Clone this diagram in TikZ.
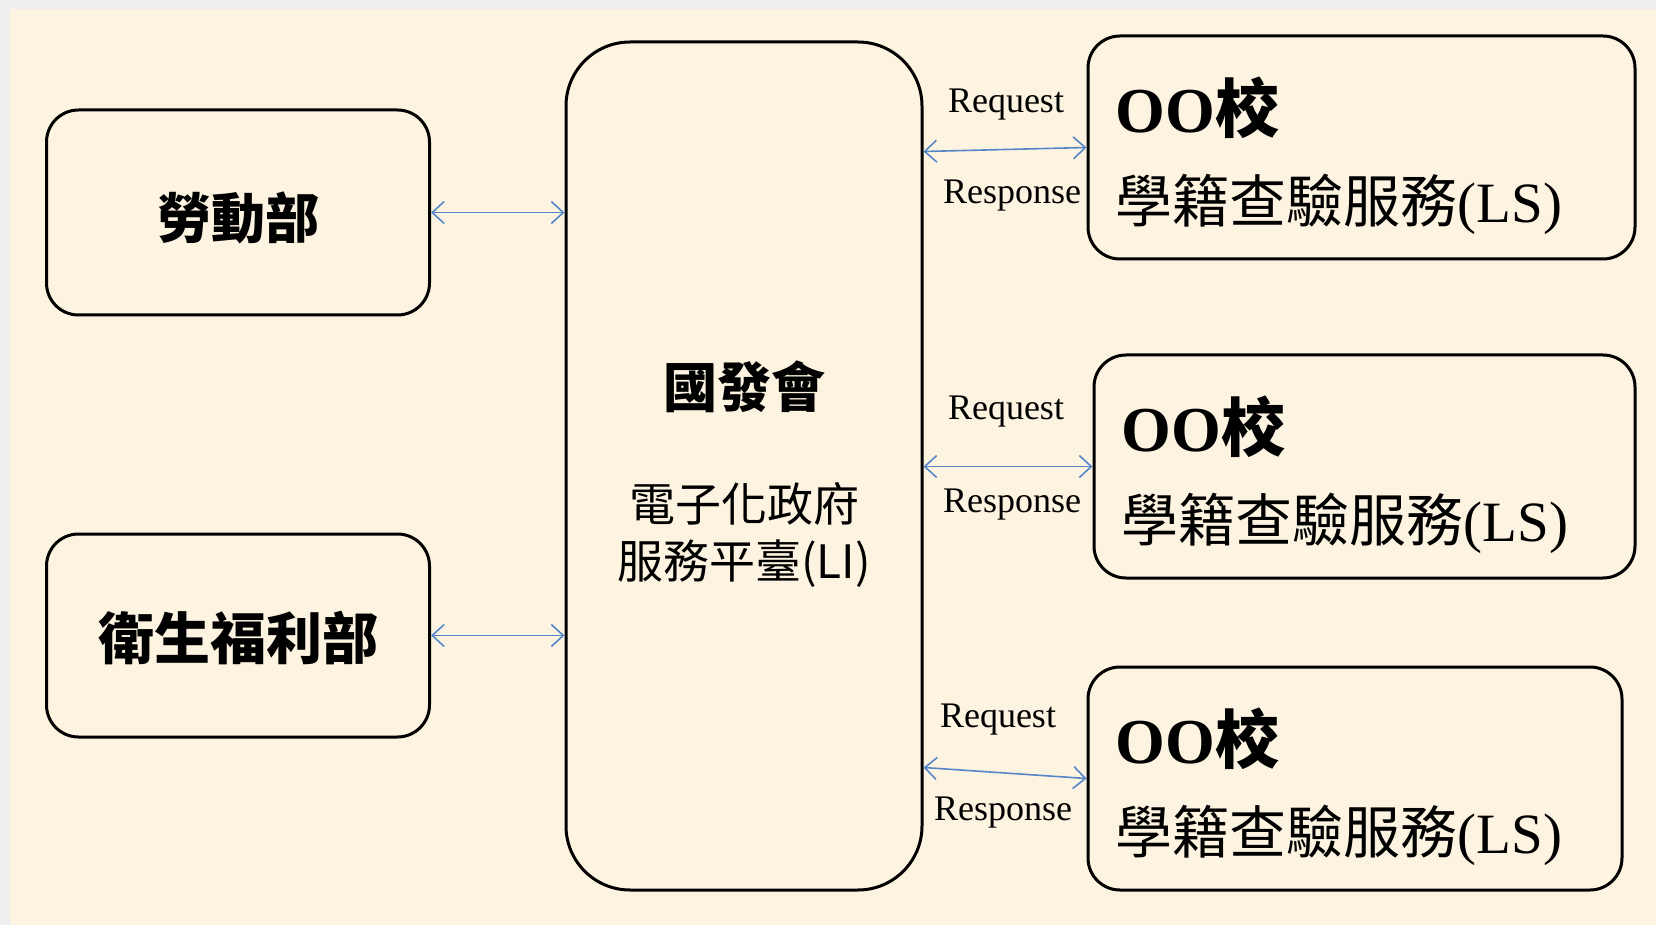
\documentclass[tikz,border=0pt]{standalone}
\usepackage{fontspec}
\setmainfont{Liberation Serif}
\newfontfamily\cjk{Noto Sans CJK TC}
\usepackage{tikz}
\usetikzlibrary{arrows.meta,positioning,calc}
\definecolor{cream}{RGB}{253,243,225}
\definecolor{edgegray}{RGB}{238,238,238}
\definecolor{linkblue}{RGB}{86,134,200}

\begin{document}
\begin{tikzpicture}[x=0.5pt,y=-0.5pt,
    box/.style={draw=black, line width=1.5pt, rounded corners=16pt, fill=cream, inner sep=0pt},
    link/.style={linkblue, line width=0.8pt, {Straight Barb[length=6pt,width=11pt]}-{Straight Barb[length=6pt,width=11pt]}},
    msg/.style={font=\fontsize{18}{20}\selectfont, inner sep=0pt},
    school/.style={font=\fontsize{28.5}{45}\selectfont, align=left, inner sep=0pt, anchor=west}]
            \fill[edgegray] (0,0) rectangle (1656,925);
            \fill[cream] (10,9) rectangle (1656,925);
            \useasboundingbox (0,0) rectangle (1656,925);

            % ministries on the left
            \node[box, minimum width=191.5pt, minimum height=102.5pt, text height=26pt, text depth=0pt, font=\cjk\bfseries\fontsize{27}{30}\selectfont] (mol) at (238,212.5) {勞動部};
            \node[box, minimum width=191.5pt, minimum height=101.5pt, text height=24pt, text depth=0pt, font=\cjk\bfseries\fontsize{28}{30}\selectfont] (mohw) at (238,635.5) {衛生福利部};

            % platform in the middle
            \node[box, rounded corners=32pt, minimum width=178pt, minimum height=424pt] (ndc) at (744,466) {};
            \node[align=center, inner sep=0pt, font=\cjk\fontsize{23}{28.5}\selectfont] (ndctxt) at ($(ndc.center)+(0,8)$)
                {\fontsize{27}{30}\selectfont\bfseries 國發會\\[28.5pt]電子化政府\\服務平臺(LI)};

            % schools on the right
            \node[box, minimum width=273.5pt, minimum height=111.5pt] (s1) at (1361.5,147.5) {};
            \node[box, minimum width=270.5pt, minimum height=111.5pt] (s2) at (1364.5,466.5) {};
            \node[box, minimum width=267pt, minimum height=111.5pt] (s3) at (1355,778.5) {};
            \node[school] (s1txt) at ($(s1.west)+(29,8)$) {\fontsize{32}{45}\selectfont\bfseries OO{\cjk 校}\\{\cjk 學籍查驗服務}(LS)};
            \node[school] (s2txt) at ($(s2.west)+(29,8)$) {\fontsize{32}{45}\selectfont\bfseries OO{\cjk 校}\\{\cjk 學籍查驗服務}(LS)};
            \node[school] (s3txt) at ($(s3.west)+(29,8)$) {\fontsize{32}{45}\selectfont\bfseries OO{\cjk 校}\\{\cjk 學籍查驗服務}(LS)};

            % links
            \draw[link] (mol.east) -- (mol.east -| ndc.west);
            \draw[link] (mohw.east) -- (mohw.east -| ndc.west);
            \draw[link] ($(ndc.east |- s1.west)+(0,4)$) -- (s1.west);
            \draw[link] (ndc.east |- s2.west) -- (s2.west);
            \draw[link] ($(ndc.east |- s3.west)+(0,-11)$) -- (s3.west);

            \node[msg] (req1) at (1006,105) {Request};
            \node[msg] (resp1) at (1012,196) {Response};
            \node[msg] (req2) at (1006,412) {Request};
            \node[msg] (resp2) at (1012,505) {Response};
            \node[msg] (req3) at (998,720) {Request};
            \node[msg] (resp3) at (1003,813) {Response};
\end{tikzpicture}
\end{document}
